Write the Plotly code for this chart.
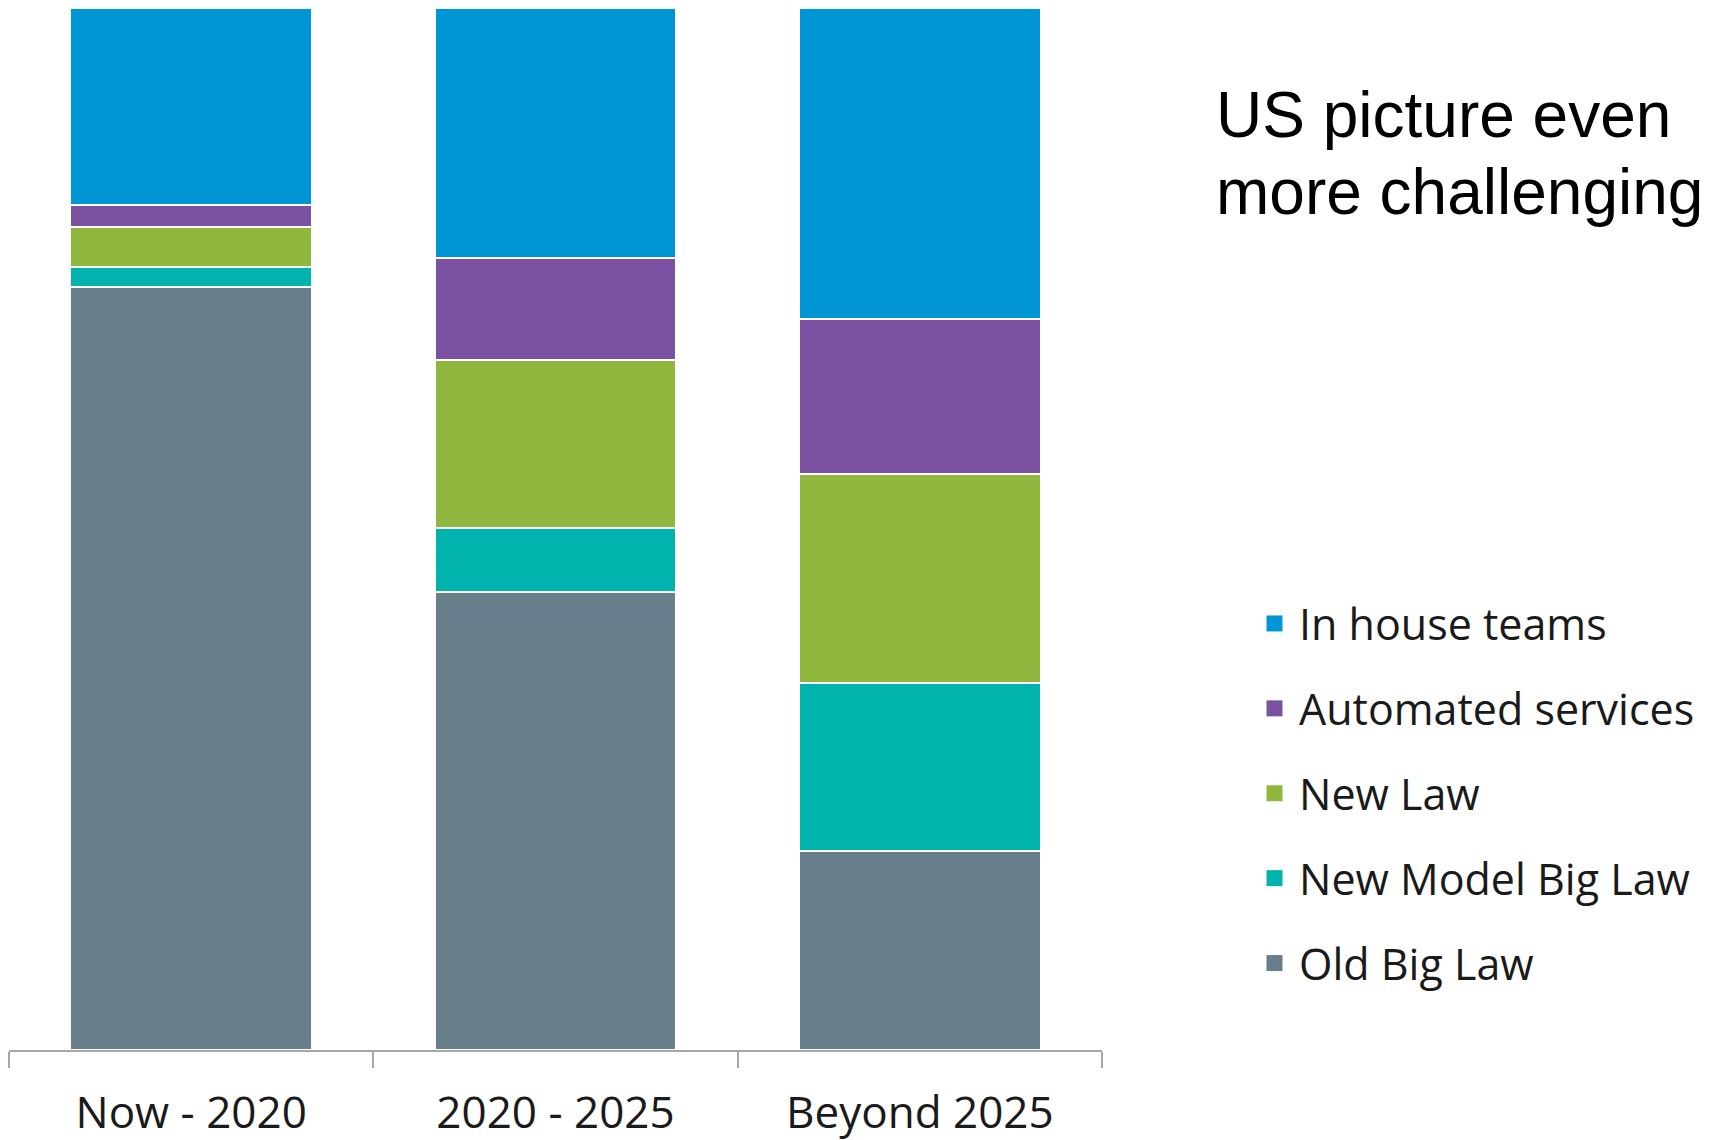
import plotly.graph_objects as go

categories = ["Now - 2020", "2020 - 2025", "Beyond 2025"]

old_big_law = [73.2, 44.0, 19.1]
new_model_big_law = [1.9, 6.1, 16.1]
new_law = [3.9, 16.1, 20.1]
automated_services = [2.1, 9.8, 14.9]
in_house_teams = [18.9, 24.0, 29.8]

series_names = ["Old Big Law", "New Model Big Law", "New Law", "Automated services", "In house teams"]
series_values = [old_big_law, new_model_big_law, new_law, automated_services, in_house_teams]
series_colors = ["#687E8A", "#00B3AD", "#8FB73E", "#7B52A1", "#0096D6"]

title_lines = ["US picture even", "more challenging"]

W, H = 1723, 1140
OFF = 8  # page body offset
ML, MR, MT, MB = 9 - OFF, W - (1102 - OFF), 0, H - (1050 - OFF)

fig = go.Figure()

for name, vals, col in zip(series_names, series_values, series_colors):
    fig.add_trace(go.Bar(
        x=categories, y=vals, name=name,
        marker=dict(color=col, line=dict(color="white", width=2)),
        showlegend=False, hoverinfo="x+y+name",
    ))

# legend entries (top to bottom: In house teams ... Old Big Law)
for name, col in reversed(list(zip(series_names, series_colors))):
    fig.add_trace(go.Scatter(
        x=[None], y=[None], mode="markers", name=name, legendgroup=name,
        marker=dict(symbol="square", size=24, color=col, line=dict(width=0)),
    ))

leg_font = dict(family="Open Sans", size=43, color="#1a1a1a")
tick_font = dict(family="Open Sans", size=44, color="#1a1a1a")

fig.update_layout(
    width=W, height=H,
    margin=dict(l=ML, r=MR, t=MT, b=MB, autoexpand=False),
    barmode="stack", bargap=0.336,
    plot_bgcolor="white", paper_bgcolor="white",
    showlegend=True,
    legend=dict(
        xref="container", yref="container",
        x=1242 / W, xanchor="left",
        y=1 - 581 / H, yanchor="top",
        font=leg_font, traceorder="grouped", tracegroupgap=26,
        itemsizing="trace", itemwidth=39, bgcolor="rgba(0,0,0,0)",
    ),
    xaxis=dict(
        type="category", range=[-0.5, 2.5],
        showline=True, linecolor="#A6A6A6", linewidth=2,
        ticks="outside", tickson="boundaries", ticklen=16, tickwidth=2, tickcolor="#A6A6A6",
        tickfont=tick_font, ticklabelstandoff=23,
        showgrid=False, zeroline=False, fixedrange=True,
    ),
    yaxis=dict(range=[0, 100], visible=False, fixedrange=True),
)

title_font = dict(family="Liberation Sans, Arial, sans-serif", size=64, color="black")
plot_w = W - ML - MR
plot_h = H - MT - MB
for i, line in enumerate(title_lines):
    mid_px = [115, 192][i] - OFF
    fig.add_annotation(
        text=line, xref="paper", yref="paper",
        x=(1214 - OFF - ML) / plot_w, y=(H - MB - mid_px) / plot_h,
        xanchor="left", yanchor="middle", showarrow=False, font=title_font,
    )

fig.write_html("out.html")
